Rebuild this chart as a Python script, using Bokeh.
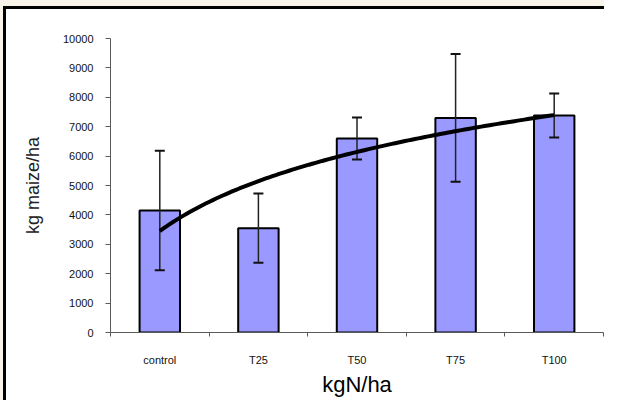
import numpy as np
from bokeh.plotting import figure
from bokeh.models import ColumnDataSource, Range1d, FixedTicker, Whisker, TeeHead
from bokeh.embed import file_html
from bokeh.resources import INLINE

# ---- data ----
categories = ["control", "T25", "T50", "T75", "T100"]
yield_mean = [4150, 3550, 6600, 7300, 7380]
yield_err = [2030, 1180, 715, 2170, 750]
y_ticks = [0, 1000, 2000, 3000, 4000, 5000, 6000, 7000, 8000, 9000, 10000]

n = len(categories)
pos = [i + 0.5 for i in range(n)]          # category centres on the x scale
upper = [m + e for m, e in zip(yield_mean, yield_err)]
lower = [m - e for m, e in zip(yield_mean, yield_err)]
src = ColumnDataSource(dict(x=pos, cat=categories, mean=yield_mean, upper=upper, lower=lower))

# Excel-style logarithmic trendline, fitted to the bar means
t = np.arange(1, n + 1)
a, b = np.polyfit(np.log(t), yield_mean, 1)
tt = np.linspace(1, n, 120)
trend_x = tt - 0.5
trend_y = a * np.log(tt) + b

FONT = "Liberation Sans"

p = figure(width=604, height=400,
           x_range=Range1d(0, n), y_range=Range1d(0, 10000),
           output_backend="svg", toolbar_location=None,
           min_border_left=110, min_border_right=1,
           min_border_top=38, min_border_bottom=68)
p.grid.visible = False
p.outline_line_color = None
p.background_fill_color = "white"
p.border_fill_color = "white"
p.border_fill_alpha = 0.0
# page background, white chart area and its black top/left border
p.styles = {
    "background-color": "#f8f4e9",
    "background-image": ("linear-gradient(#000,#000), linear-gradient(#000,#000), "
                         "linear-gradient(#fff,#fff)"),
    "background-position": "3px 6px, 3px 6px, 3px 6px",
    "background-size": "3px 400px, 604px 3px, 604px 400px",
    "background-repeat": "no-repeat",
}

# x axis: labels at category centres, ticks at category boundaries
xa = p.xaxis[0]
xa.ticker = FixedTicker(ticks=pos, minor_ticks=list(range(n + 1)))
xa.major_label_overrides = {x: c for x, c in zip(pos, categories)}
xa.axis_line_color = "#5a5a5a"
xa.major_tick_line_color = None
xa.major_tick_out = 0
xa.major_tick_in = 0
xa.minor_tick_line_color = "#5a5a5a"
xa.minor_tick_out = 4
xa.minor_tick_in = 0
xa.major_label_standoff = 17
xa.major_label_text_font = FONT
xa.major_label_text_font_size = "11px"
xa.major_label_text_color = "#111111"
xa.axis_label = "kgN/ha"
xa.axis_label_text_font = FONT
xa.axis_label_text_font_size = "22px"
xa.axis_label_text_font_style = "normal"
xa.axis_label_text_color = "#000000"
xa.axis_label_standoff = 3

ya = p.yaxis[0]
ya.ticker = FixedTicker(ticks=y_ticks)
ya.axis_line_color = "#5a5a5a"
ya.major_tick_line_color = "#5a5a5a"
ya.major_tick_out = 5
ya.major_tick_in = 0
ya.minor_tick_line_color = None
ya.major_label_standoff = 12
ya.major_label_text_font = FONT
ya.major_label_text_font_size = "11px"
ya.major_label_text_color = "#111111"
ya.axis_label = "kg maize/ha"
ya.axis_label_text_font = FONT
ya.axis_label_text_font_size = "18px"
ya.axis_label_text_font_style = "normal"
ya.axis_label_text_color = "#222222"
ya.axis_label_standoff = 17

# bars
p.vbar(x="x", top="mean", bottom=0, width=0.41, source=src,
       fill_color="#9999FF", line_color="black", line_width=2)

# error bars
wh = Whisker(source=src, base="x", upper="upper", lower="lower",
             line_color="#222222", line_width=1.5, level="annotation",
             upper_head=TeeHead(size=10, line_width=2, line_color="#111111"),
             lower_head=TeeHead(size=10, line_width=2, line_color="#111111"))
p.add_layout(wh)

# trendline
p.line(trend_x, trend_y, line_width=4, line_color="black", level="overlay")

open("out.html", "w").write(file_html(p, INLINE))
